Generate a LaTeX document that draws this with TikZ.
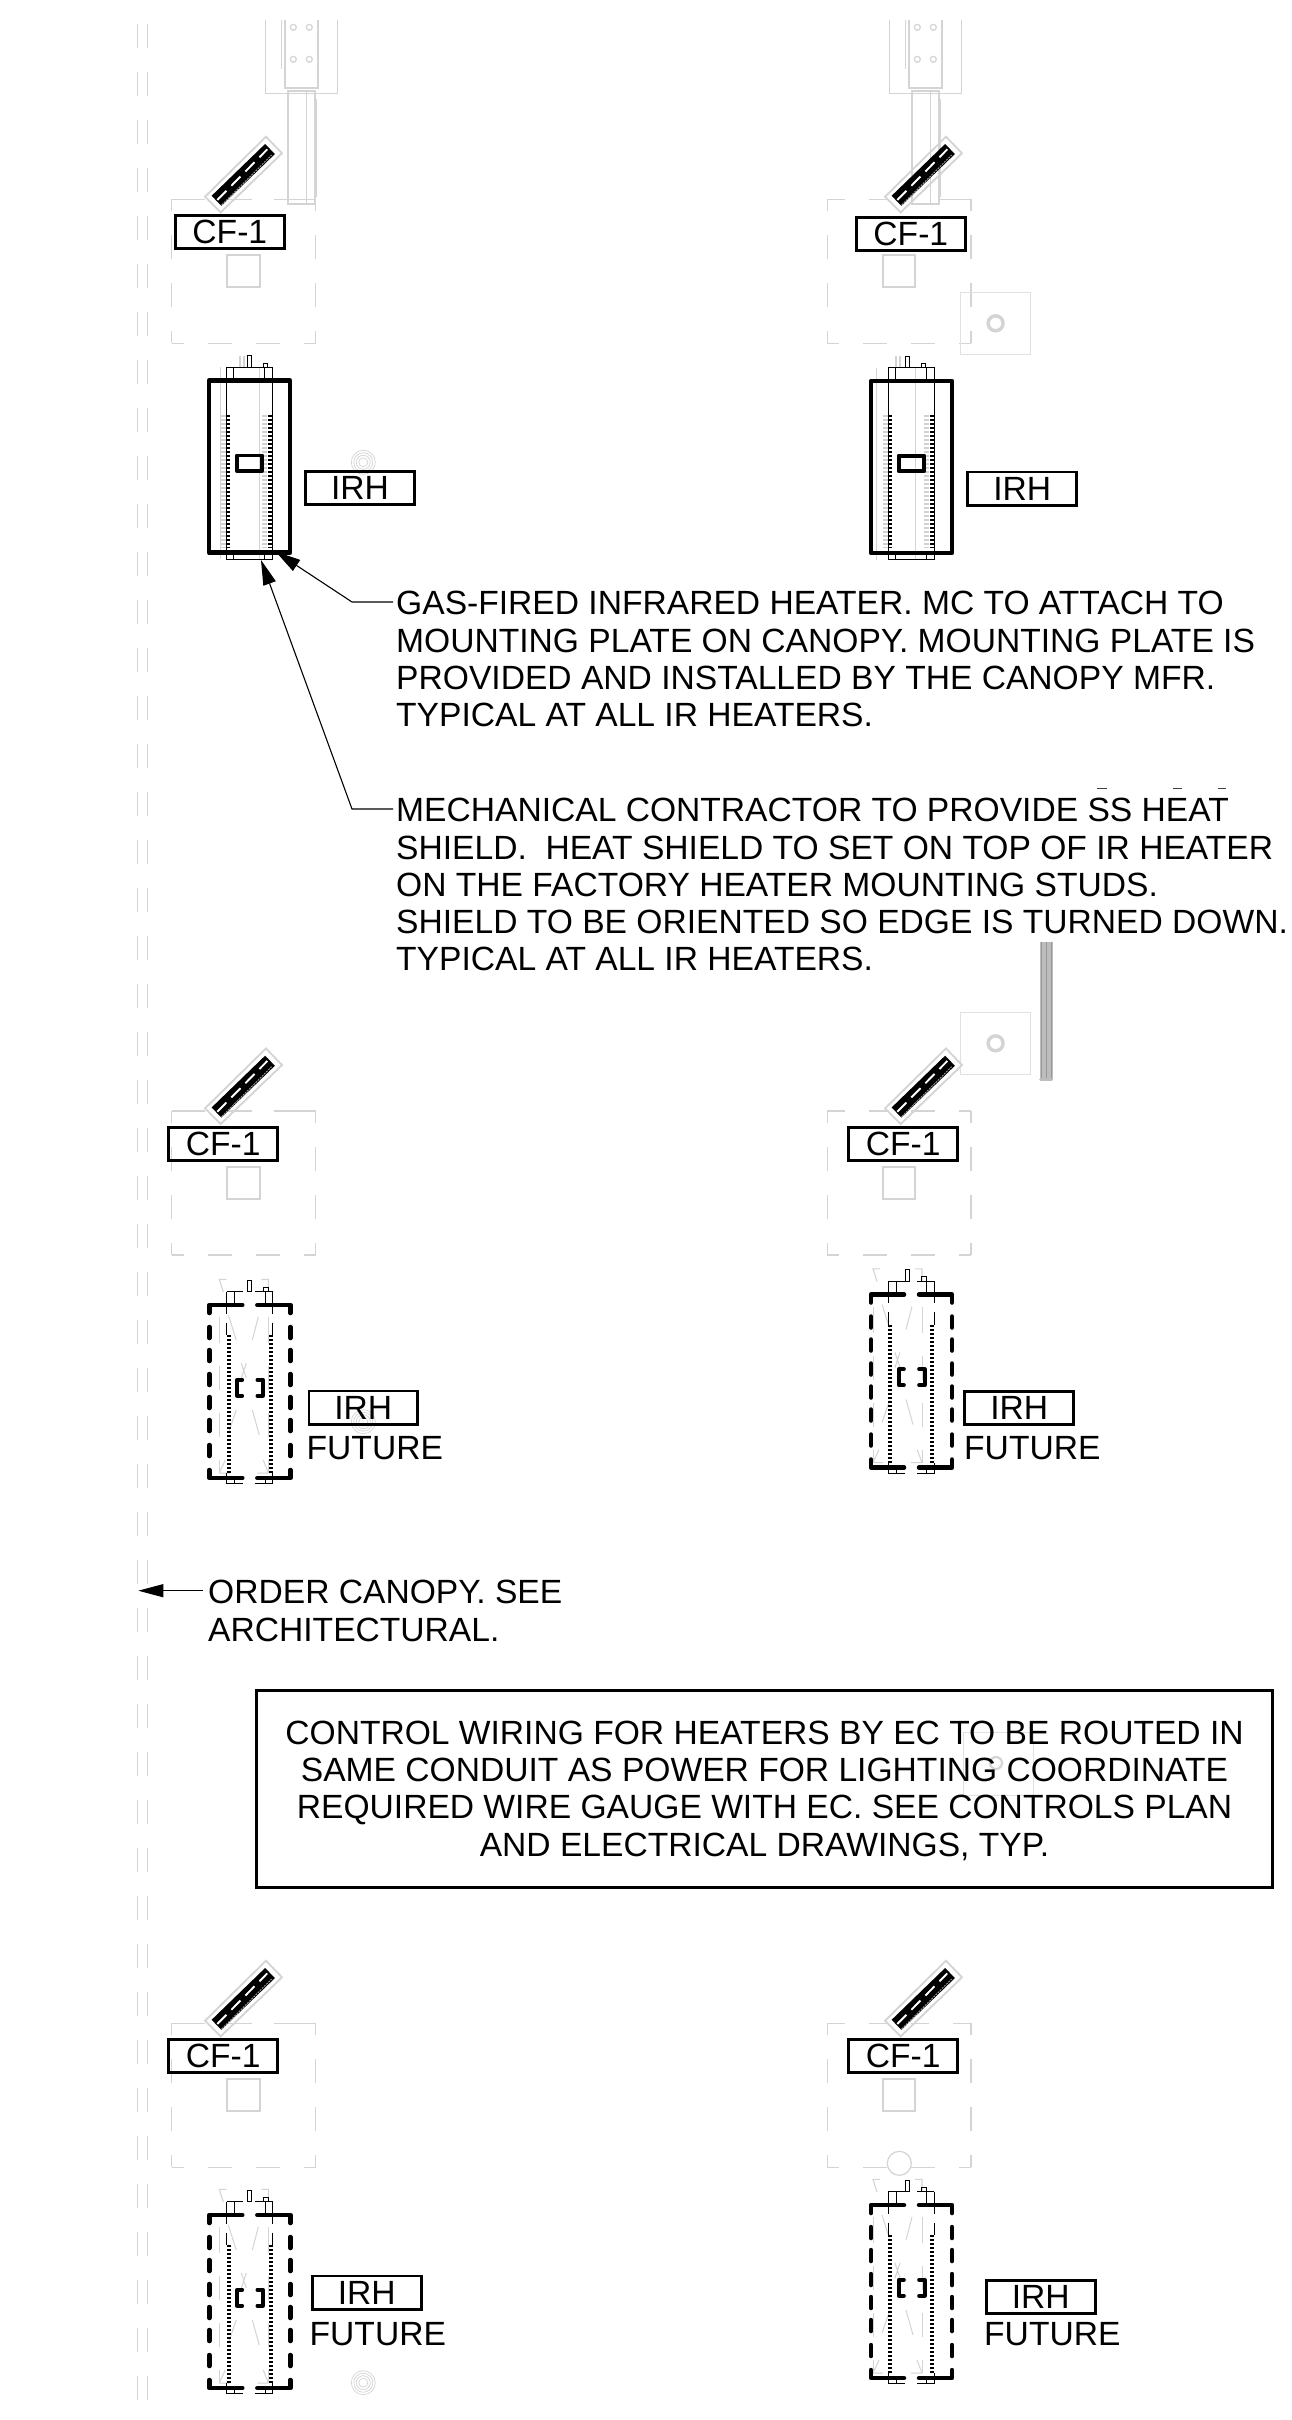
\documentclass[tikz,border=0pt]{standalone}
\usepackage{fontspec}
\setmainfont{Liberation Sans}
\usetikzlibrary{arrows.meta}
\definecolor{gl}{HTML}{D4D4D4}
\definecolor{gm}{HTML}{BDBDBD}
\tikzset{
 x=1pt,y=-1pt,
 tag/.style={draw=black,line width=2.8pt,inner sep=0pt,font=\fontsize{33.6}{36}\selectfont,minimum height=33.2pt,minimum width=108.8pt},
 plain/.style={inner sep=0pt,font=\fontsize{33.6}{37.33}\selectfont,align=left,anchor=north west},
 faint/.style={draw=gl,line width=1.2pt},
 faintb/.style={draw=gl,line width=1.8pt},
 thick heater/.style={line width=4.5pt,line cap=round,line join=round},
 thinblack/.style={line width=1pt,draw=black},
 hatchb/.style={line width=4.2pt,draw=black,dash pattern=on 2.4pt off 1.6pt},
 hatchg/.style={line width=5pt,draw=gm!70,dash pattern=on 2pt off 2pt},
 leader/.style={line width=1.1pt,draw=black,-{Triangle[length=25pt,width=13pt]}},
}
\newcommand\canopysq[3]{\begin{scope}[shift={(#1,#2)}]
 \foreach \a/\b in {#3}{\draw[faint](171.7+\a,199.3)--(171.7+\b,199.3);}
 \foreach \a/\b in {0/12,36/60,84/108,132/144}{
  \draw[faint](171.7+\a,343.3)--(171.7+\b,343.3);
  \draw[faint](171.7,199.3+\a)--(171.7,199.3+\b);
  \draw[faint](315.3,199.3+\a)--(315.3,199.3+\b);}
 \draw[draw=gl,line width=2pt](227,255)rectangle(259.7,287.3);
\end{scope}}
\newcommand\fanunit[2]{\begin{scope}[shift={(#1,#2)}]
 \draw[faintb](266,136.7)--(282,153.3)--(220.7,212.3)--(205,196.7)--cycle;
 \draw[black,line width=14pt,line cap=butt](216.5,200.8)--(270,149);
 \draw[white,line width=1.9pt,dash pattern=on 13pt off 7pt](217.3,200)--(267.3,149.3);
 \draw[gm,line width=0.7pt,dash pattern=on 2pt off 1pt](221.7,205)--(271.7,155);
\end{scope}}
\newcommand\columnunit[1]{\begin{scope}[shift={(#1,0)}]
 \draw[faint](265.3,20)--(265.3,93.3)--(337.3,93.3)--(337.3,20);
 \draw[faintb](284.7,20)--(284.7,88.3)--(318.3,88.3)--(318.3,20);
 \draw[faint](281.7,20)--(281.7,69.3);
 \foreach \p/\q in {293.3/27.3,309.3/27.3,293.3/59.3,309.3/59.3}{\draw[faint](\p,\q)circle(3);}
 \draw[faintb](287.7,90.7)rectangle(315,204.3);
 \draw[faint](306.3,90.7)--(306.3,204.3);
 \draw[faint](316.7,99.3)--(316.7,196.7);
\end{scope}}
\newcommand\rings[2]{\foreach \r in {4.5,7,9.5,12}{\draw[draw=gl,line width=0.7pt](#1,#2)circle(\r);}}
\newcommand\plate[2]{\draw[draw=gl!70,line width=1.1pt](960.3,#2)rectangle(1030.3,#2+62);
 \draw[draw=gl,line width=3.4pt](995.6,#2+31)circle(7.5);}
\newcommand\solidheater[4]{\begin{scope}[shift={(#1,#2)}]
 \draw[draw=gl,line width=1pt](11.3+#3,-13.4)--(11.3+#3,178.6);
 \draw[draw=gl,line width=1pt](50+#3,-13.4)--(50+#3,178.6);
 \draw[draw=gl,line width=1.2pt](31+#3,-25)--(31+#3,-13.4) (35+#3,-25)--(35+#3,-13.4);
 \draw[hatchg](14,34)--(14,167);
 \draw[hatchg](55.5,34)--(55.5,167);
 \draw[hatchb](19,34)--(19,167);
 \draw[hatchb](61,34)--(61,167);
 \draw[thinblack](17,-13.4)--(63.3,-13.4)--(63.3,178.6)--(17,178.6)--cycle;
 \draw[thinblack](24.3,-13.4)--(24.3,0) (55.3,-13.4)--(55.3,0) (24.3,172)--(24.3,178.6) (55.3,172)--(55.3,178.6);
 \draw[thinblack](38.3+#4,-25)rectangle(42+#4,-13.4);
 \draw[thinblack](54.3+#4,-17.7)rectangle(58.3+#4,-13.4);
 \draw[thick heater](0,0)rectangle(81,172);
 \draw[thick heater,line width=3.8pt](27.7,74.7)rectangle(53.3,90.3);
\end{scope}}
\newcommand\dashedheater[4]{\begin{scope}[shift={(#1,#2)}]
 \foreach \a/\b in {12/38,61/85,108/132,155/168}{
  \draw[draw=gl,line width=1pt](10+#3,\a)--(10+#3,\b);
  \draw[draw=gl,line width=1pt](59+#3,\a)--(59+#3,\b);}
 \draw[draw=gl,line width=1.1pt](17+#3,-25.7)--(10+#3,-25.7)--(14+#3,-13) (52+#3,-25.7)--(59+#3,-25.7)--(59+#3,-13);
 \draw[draw=gl,line width=1pt](19+#3,10)--(27+#3,35) (49+#3,12)--(43+#3,35) (32+#3,58)--(37+#3,73) (37+#3,58)--(32+#3,73)
  (27+#3,105)--(19+#3,128) (43+#3,105)--(50+#3,130)
  (10+#3,168)--(16+#3,155) (59+#3,168)--(54+#3,155) (10+#3,168)--(20+#3,168) (59+#3,168)--(48+#3,168);
 \draw[hatchb](19.3,30)--(19.3,168);
 \draw[hatchb](61.3,30)--(61.3,168);
 \draw[thinblack](17.3,-13.4)--(34,-13.4) (46,-13.4)--(63.3,-13.4);
 \draw[thinblack](25,-13.4)--(25,0) (55.7,-13.4)--(55.7,0);
 \draw[thinblack,dash pattern=on 22pt off 9pt](17.3,-13.4)--(17.3,30);
 \draw[thinblack,dash pattern=on 22pt off 9pt](63.3,-13.4)--(63.3,30);
 \draw[thinblack](17.3,168)--(17.3,178.6)--(34,178.6) (46,178.6)--(63.3,178.6)--(63.3,168);
 \draw[thinblack](25,173)--(25,178.6) (55.7,173)--(55.7,178.6);
 \draw[line width=0.8pt](38.5+#4,-25)rectangle(42+#4,-13.4);
 \draw[thinblack](54+#4,-17.7)rectangle(59+#4,-13.4);
 \draw[thick heater](0,8)--(0,0)--(33,0) (48,0)--(81,0)--(81,8);
 \draw[thick heater](0,165)--(0,173)--(33,173) (48,173)--(81,173)--(81,165);
 \foreach \a/\b in {22/33,45/56,69/80,92/103,115/126,140/151}{
  \draw[thick heater](0,\a)--(0,\b);
  \draw[thick heater](81,\a)--(81,\b);}
 \draw[thick heater,line width=3.6pt](33,74.7)--(27.7,74.7)--(27.7,90.7)--(33,90.7) (48,74.7)--(53.7,74.7)--(53.7,90.7)--(48,90.7);
\end{scope}}
\begin{document}
\begin{tikzpicture}
\useasboundingbox (0,0) rectangle (1291,2420);
\fill[white](0,0)rectangle(1291,2420);
\foreach \k in {0,...,49}{
 \pgfmathsetmacro\ya{max(20,23.7+48*\k)}
 \pgfmathsetmacro\yb{min(2404,47.7+48*\k)}
 \draw[draw=gl,line width=1.2pt](137.5,\ya)--(137.5,\yb);
 \draw[draw=gl,line width=1.2pt](147.5,\ya)--(147.5,\yb);}
\columnunit{0}\columnunit{624}
\canopysq{0}{0}{0/33,55/80,102/144}
\canopysq{655.6}{0}{0/18,42/60,112/144}
\canopysq{0}{911.7}{0/33,55/80,102/144}
\canopysq{655.6}{911.7}{0/18,42/60,84/108,132/144}
\canopysq{0}{1824}{0/33,55/80,102/144}
\canopysq{655.6}{1824}{0/18,42/60,84/102,126/144}
\draw[faint,fill=white](899.3,2163.3)circle(12);
\plate{0}{292.3}
\plate{0}{1012.3}
\draw[draw=gl!70,line width=1pt](963,1732)rectangle(1033,1795);
\draw[draw=gl,line width=2.2pt](996,1763)circle(6);
\rings{363.3}{462.3}
\rings{363.3}{1421.7}
\rings{363.3}{2382.7}
\fill[gm](1040,941.7)rectangle(1052.7,1079);
\foreach \p in {1041,1046.3,1051.7}{\draw[draw=gray!80,line width=0.8pt](\p,941.7)--(\p,1079);}
\draw[draw=gm,line width=3pt,line cap=round](1040.5,1079.5)--(1051.5,1079.5);
\fanunit{0}{0}\fanunit{680}{0}\fanunit{0}{911.7}\fanunit{680}{911.7}\fanunit{0}{1824}\fanunit{680}{1824}
\solidheater{209}{380.7}{0}{0}
\solidheater{871}{381}{-6}{-4}
\dashedheater{209.3}{1305}{0}{0}
\dashedheater{871}{1294.5}{-8}{-4}
\dashedheater{209.3}{2215}{0}{0}
\dashedheater{871}{2205}{-8}{-4}
\node[tag](cf1) at (229.8,232){CF-1};
\node[tag](cf2) at (910.8,233.7){CF-1};
\node[tag](cf3) at (223.2,1144){CF-1};
\node[tag](cf4) at (903.2,1144){CF-1};
\node[tag](cf5) at (223.2,2056){CF-1};
\node[tag](cf6) at (903.2,2056){CF-1};
\node[tag](irh1) at (360,488){IRH};
\node[tag](irh2) at (1022.2,488.5){IRH};
\node[tag](irh3) at (363.3,1407.5){IRH};
\node[tag](irh4) at (1019.2,1408){IRH};
\node[tag](irh5) at (366.8,2292.5){IRH};
\node[tag](irh6) at (1040.8,2297){IRH};
\node[plain,anchor=base west](fut3) at (306.5,1459.5){FUTURE};
\node[plain,anchor=base west](fut4) at (964,1459.5){FUTURE};
\node[plain,anchor=base west](fut5) at (309.5,2345.7){FUTURE};
\node[plain,anchor=base west](fut6) at (984,2345.7){FUTURE};
\node[plain](note1) at (396,591){GAS-FIRED INFRARED HEATER. MC TO ATTACH TO\\MOUNTING PLATE ON CANOPY. MOUNTING PLATE IS\\PROVIDED AND INSTALLED BY THE CANOPY MFR.\\TYPICAL AT ALL IR HEATERS.};
\node[plain](note2) at (396,798){MECHANICAL CONTRACTOR TO PROVIDE SS HEAT\\SHIELD.\ \ HEAT SHIELD TO SET ON TOP OF IR HEATER\\ON THE FACTORY HEATER MOUNTING STUDS.\\SHIELD TO BE ORIENTED SO EDGE IS TURNED DOWN.\\TYPICAL AT ALL IR HEATERS.};
\node[plain](note3) at (208,1580){ORDER CANOPY. SEE\\ARCHITECTURAL.};
\draw[draw=black!75,line width=1pt](1096.7,788.3)--(1107.3,788.3) (1173.3,788.3)--(1182.3,788.3) (1218.3,788.3)--(1225.7,788.3);
\node[draw=black,line width=3pt,inner sep=0pt,minimum width=1016pt,minimum height=197pt](box) at (764.5,1789){};
\node[inner sep=0pt,font=\fontsize{33.6}{37.33}\selectfont,align=center](boxt) at (764.5,1790.5){CONTROL WIRING FOR HEATERS BY EC TO BE ROUTED IN\\SAME CONDUIT AS POWER FOR LIGHTING COORDINATE\\REQUIRED WIRE GAUGE WITH EC. SEE CONTROLS PLAN\\AND ELECTRICAL DRAWINGS, TYP.};
\coordinate (tipa) at (275.7,551.7);
\coordinate (tipb) at (261,560);
\coordinate (tipc) at (138.3,1590.7);
\coordinate (ela) at (352,602);
\coordinate (elb) at (352,809);
\draw[leader]([xshift=-3pt,yshift=-11pt]note1.north west)--(ela)--(tipa);
\draw[leader]([xshift=-3pt,yshift=-11pt]note2.north west)--(elb)--(tipb);
\draw[leader]([xshift=-5pt,yshift=-10.7pt]note3.north west)--(tipc);
\end{tikzpicture}
\end{document}
